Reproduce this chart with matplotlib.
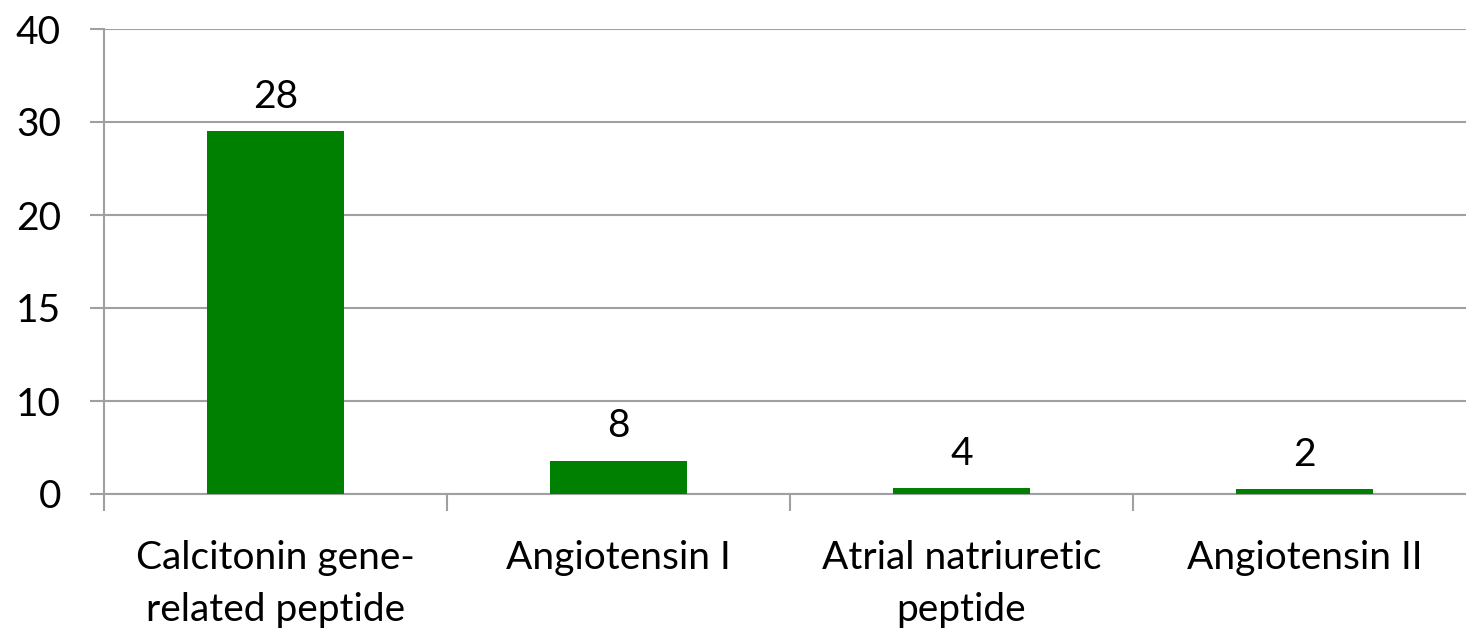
import matplotlib
matplotlib.use("Agg")
import matplotlib.pyplot as plt
import numpy as np

# data
categories = ["Calcitonin gene-\nrelated peptide", "Angiotensin I",
              "Atrial natriuretic\npeptide", "Angiotensin II"]
value_labels = [28, 8, 4, 2]
# bar heights, in gridline steps (the axis is evenly spaced
# gridlines carrying the labels below)
bar_heights = [3.90, 0.36, 0.06, 0.05]
ytick_labels = [0, 10, 15, 20, 30, 40]

plt.rcParams['font.family'] = ['Lato', 'DejaVu Sans']
FS = 28

fig = plt.figure(figsize=(14.66, 6.39), dpi=100)
ax = fig.add_axes([104 / 1466, 1 - 494 / 639, 1 - 104 / 1466, (494 - 29) / 639])

x = np.arange(len(categories))
bars = ax.bar(x, bar_heights, width=0.40, color="#008000", zorder=3)

for b, lab in zip(bars, value_labels):
    ax.annotate(str(lab), (b.get_x() + b.get_width() / 2, b.get_height()),
                xytext=(0, 12), textcoords="offset points",
                ha="center", va="bottom", fontsize=FS)

# y axis: evenly spaced gridlines
ax.set_ylim(0, len(ytick_labels) - 1)
ax.set_yticks(np.arange(len(ytick_labels)))
ax.set_yticklabels([str(v) for v in ytick_labels], fontsize=FS)
ax.yaxis.grid(True, color="#a0a0a0", linewidth=1.5, zorder=0)

# x axis: category labels centred, ticks at boundaries
ax.set_xlim(-0.5, -0.5 + (1466 - 104) / 343)
ax.set_xticks(x)
ax.set_xticklabels(categories, fontsize=FS, linespacing=1.55)
ax.set_xticks(np.arange(len(categories)) - 0.5, minor=True)
ax.tick_params(axis="x", which="major", length=0, pad=33)
ax.tick_params(axis="x", which="minor", length=12, width=1.5, color="#a0a0a0")
ax.tick_params(axis="y", length=10, width=1.5, color="#a0a0a0", pad=21)

for s in ["top", "right"]:
    ax.spines[s].set_visible(False)
for s in ["left", "bottom"]:
    ax.spines[s].set_color("#a0a0a0")
    ax.spines[s].set_linewidth(1.5)
ax.spines["left"].set_bounds(0, 5)

fig.savefig("out.png", dpi=100)
